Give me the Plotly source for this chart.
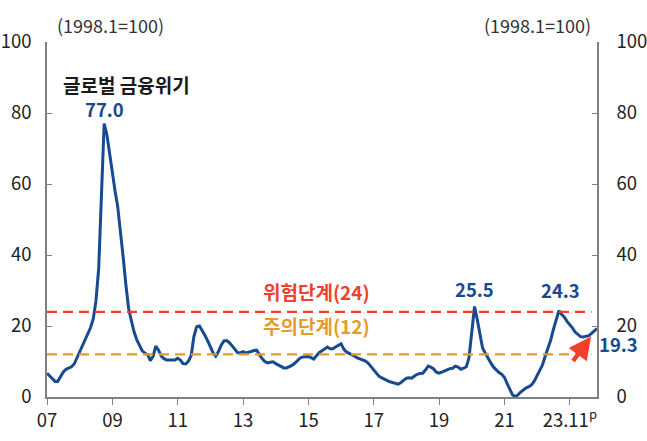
import pandas as pd
import plotly.graph_objects as go

# Financial Stress Index (1998.1 = 100), monthly, 2007.01 - 2023.11
v2007 = [6.7, 5.8, 5.0, 4.4, 4.4, 5.6, 7.0, 7.8, 8.1, 8.5, 9.3, 11.0]
v2008 = [13.0, 14.8, 16.5, 17.8, 19.5, 22.0, 27.0, 36.3, 60.0, 77.0, 73.8, 68.7]
v2009 = [62.0, 57.8, 53.7, 47.0, 39.5, 31.6, 25.0, 21.5, 18.3, 16.1, 14.6, 13.0]
v2010 = [12.3, 11.9, 10.2, 11.5, 14.3, 13.2, 11.5, 10.8, 10.4, 10.4, 10.3, 10.4]
v2011 = [10.9, 10.4, 9.4, 9.3, 10.1, 11.7, 17.0, 19.8, 20.0, 18.8, 17.4, 15.9]
v2012 = [14.1, 12.4, 11.5, 12.8, 14.6, 15.8, 15.9, 15.3, 14.4, 13.3, 12.5, 12.5]
v2013 = [12.8, 12.4, 12.5, 12.8, 13.1, 13.2, 12.0, 10.8, 10.0, 9.6, 9.8, 9.9]
v2014 = [9.4, 8.9, 8.5, 8.2, 8.2, 8.5, 8.9, 9.5, 10.3, 11.0, 11.3, 11.4]
v2015 = [11.4, 11.1, 10.7, 11.6, 12.5, 13.0, 13.6, 14.1, 13.6, 13.6, 14.1, 14.6]
v2016 = [15.0, 13.5, 12.7, 12.3, 12.0, 11.5, 11.0, 10.7, 10.4, 10.1, 9.5, 8.6]
v2017 = [7.8, 6.6, 5.8, 5.4, 4.9, 4.6, 4.3, 4.0, 3.8, 3.6, 4.1, 4.8]
v2018 = [5.3, 5.4, 5.3, 5.9, 6.4, 6.6, 6.7, 7.6, 8.7, 8.4, 7.9, 7.0]
v2019 = [6.7, 7.0, 7.3, 7.8, 8.0, 8.1, 8.7, 8.4, 7.8, 8.1, 8.5, 11.0]
v2020 = [19.0, 25.5, 22.0, 17.3, 13.8, 12.3, 10.8, 9.6, 8.4, 7.5, 6.9, 6.4]
v2021 = [5.5, 3.7, 2.2, 0.6, 0.1, 0.6, 1.4, 2.1, 2.6, 2.9, 3.5, 4.5]
v2022 = [6.0, 7.3, 9.0, 11.5, 13.5, 16.0, 19.0, 22.0, 24.3, 23.3, 22.5, 21.3]
v2023 = [20.5, 19.4, 18.3, 17.5, 17.0, 16.9, 17.0, 17.3, 17.9, 18.6, 19.3]

years = [v2007, v2008, v2009, v2010, v2011, v2012, v2013, v2014, v2015,
         v2016, v2017, v2018, v2019, v2020, v2021, v2022, v2023]
fsi = [v for yr in years for v in yr]
dates = pd.date_range("2007-01-01", periods=len(fsi), freq="MS")

tick_years = [2007, 2009, 2011, 2013, 2015, 2017, 2019, 2021, 2023]
tick_text = ["07", "09", "11", "13", "15", "17", "19", "21", "23.11<sup>p</sup>"]
y_ticks = [0, 20, 40, 60, 80, 100]

danger_level = 24
caution_level = 12

BLUE = "#174A8E"
RED = "#F2412B"
ORANGE = "#E39B2F"
FONT = "Noto Sans CJK KR"


def peak_index(year_list, year_no):
    return 12 * year_no + year_list.index(max(year_list))


fig = go.Figure()
fig.add_trace(go.Scatter(x=dates, y=fsi, mode="lines",
                         line=dict(color=BLUE, width=3), hoverinfo="skip",
                         showlegend=False))
fig.add_trace(go.Scatter(x=dates, y=fsi, mode="lines", yaxis="y2",
                         line=dict(color="rgba(0,0,0,0)", width=0),
                         hoverinfo="skip", showlegend=False))

for lvl, col in [(danger_level, RED), (caution_level, ORANGE)]:
    fig.add_shape(type="line", xref="paper", x0=0, x1=0.99, yref="y",
                  y0=lvl, y1=lvl, line=dict(color=col, width=2.2, dash="10px,6px"))

lab_font = dict(color=BLUE, size=18.5, family=FONT, weight="bold")
ann = []
i_gfc = peak_index(v2008, 1)
ann.append(dict(x=dates[i_gfc], y=fsi[i_gfc], text="77.0", showarrow=False,
                yanchor="bottom", yshift=0, font=lab_font))
i_covid = peak_index(v2020, 13)
ann.append(dict(x=dates[i_covid], y=fsi[i_covid], text="25.5", showarrow=False,
                yanchor="bottom", yshift=2, font=lab_font))
i_2022 = peak_index(v2022, 15)
ann.append(dict(x=dates[i_2022], y=fsi[i_2022], text="24.3", showarrow=False,
                yanchor="bottom", yshift=6, xshift=2, font=lab_font))
ann.append(dict(x=dates[-1], y=fsi[-1], text="19.3", showarrow=False,
                xanchor="left", xshift=0, yshift=-16, font=lab_font))
ann.append(dict(x=dates[-1], y=fsi[-1], text="", showarrow=True, ax=-25, ay=34,
                axref="pixel", ayref="pixel", standoff=10, arrowhead=2,
                arrowsize=1, arrowwidth=4.5, arrowcolor=RED))
ann.append(dict(xref="paper", yref="paper", x=0.145, y=0.879, xanchor="center",
                yanchor="middle", text="글로벌 금융위기", showarrow=False,
                font=dict(color="#1a1a1a", size=19, family=FONT, weight="bold")))
ann.append(dict(xref="paper", x=0.49, xanchor="center", y=danger_level,
                text=f"위험단계({danger_level})", showarrow=False, yanchor="bottom", yshift=5,
                font=dict(color=RED, size=19, family=FONT, weight="bold")))
ann.append(dict(xref="paper", x=0.49, xanchor="center", y=caution_level,
                text=f"주의단계({caution_level})", showarrow=False, yanchor="bottom", yshift=13,
                font=dict(color=ORANGE, size=19, family=FONT, weight="bold")))
ann.append(dict(xref="paper", yref="paper", x=0.115, y=1.048, xanchor="center",
                yanchor="middle", text="(1998.1=100)", showarrow=False,
                font=dict(color="#333333", size=18, family=FONT)))
ann.append(dict(xref="paper", yref="paper", x=0.892, y=1.048, xanchor="center",
                yanchor="middle", text="(1998.1=100)", showarrow=False,
                font=dict(color="#333333", size=18, family=FONT)))

axis_common = dict(range=[0, 100], tickvals=y_ticks, showgrid=False, zeroline=False,
                   showline=True, linecolor="#808080", linewidth=1.5,
                   ticks="inside", ticklen=5, tickcolor="#808080",
                   tickfont=dict(size=18.5, color="#222222", family=FONT),
                   automargin=False)

fig.update_layout(
    width=647, height=441, autosize=False,
    margin=dict(l=47, r=50, t=42, b=44),
    plot_bgcolor="white", paper_bgcolor="white",
    font=dict(family=FONT),
    xaxis=dict(range=[dates[0], dates[-1]], tickvals=[pd.Timestamp(f"{y}-01-01") for y in tick_years],
               ticktext=tick_text, showgrid=False, zeroline=False, showline=True,
               linecolor="#808080", linewidth=1.5, ticks="outside", ticklen=6,
               tickcolor="#808080", tickfont=dict(size=18.5, color="#222222", family=FONT),
               automargin=False),
    yaxis=dict(side="left", ticklabelstandoff=10, **axis_common),
    yaxis2=dict(side="right", overlaying="y", ticklabelstandoff=14, **axis_common),
    annotations=ann,
    showlegend=False,
)

fig.write_html("out.html", config={"displayModeBar": False},
               post_script="document.body.style.margin='0px';")
